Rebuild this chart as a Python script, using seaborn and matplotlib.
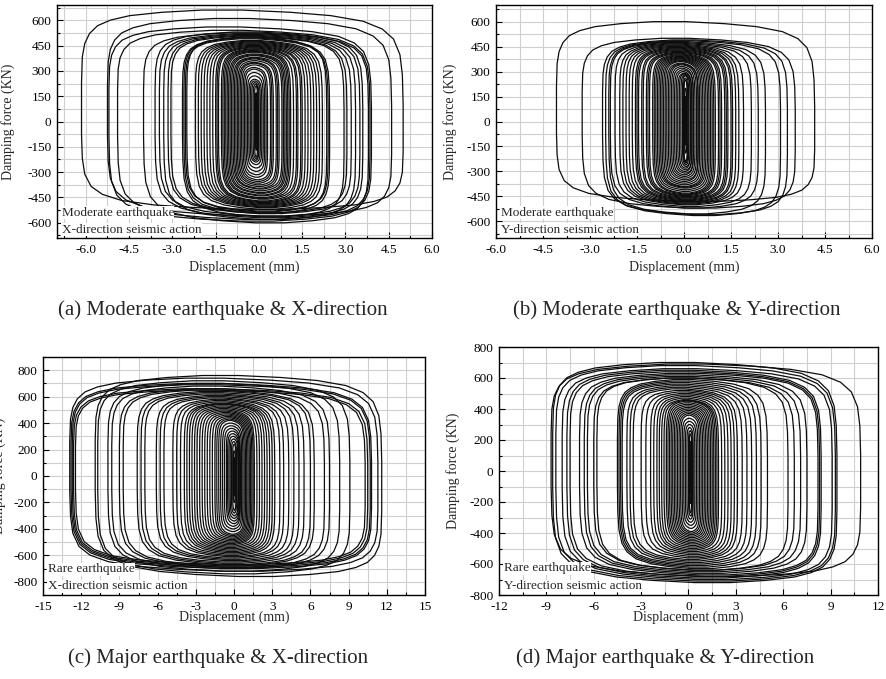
import numpy as np
import pandas as pd
import matplotlib
matplotlib.use("Agg")
import matplotlib.pyplot as plt
from matplotlib.ticker import MultipleLocator, FormatStrFormatter
import seaborn as sns

# ---------------- data ----------------
# Normalised half-loop outline (top branch from the top-left corner to the
# right side, then down); the other half of each loop is its point-mirror.
HALF_U = [-0.25, 0.0, 0.3, 0.55, 0.75, 0.87, 0.94, 0.98, 0.995, 1.0, 1.0,
          1.0, 0.995, 0.98, 0.95, 0.9, 0.82, 0.7, 0.5]
HALF_V = [1.0, 1.0, 0.98, 0.95, 0.9, 0.83, 0.74, 0.6, 0.42, 0.15, -0.15,
          -0.35, -0.58, -0.7, -0.79, -0.86, -0.91, -0.95, -0.98]

# (a) Moderate earthquake, X-direction: per-loop left/right displacement (mm), peak forces (KN)
A_LEFT = [-6.15, -5.25, -5.2, -4.9, -4.0, -3.6, -3.45, -3.3, -3.15, -3.05,
          -2.65, -2.6, -2.55, -2.5, -2.2, -2.1, -2.0, -1.9, -1.8, -1.7,
          -1.6, -1.5, -1.45, -1.4, -1.3, -1.25, -1.2, -1.15, -1.1, -1.05,
          -1.0, -0.95, -0.9, -0.85, -0.8, -0.75, -0.7, -0.65, -0.6, -0.55,
          -0.5, -0.45, -0.4, -0.35, -0.3, -0.25, -0.2, -0.15, -0.12, -0.1]
A_RIGHT = [5.0, 4.6, 3.9, 3.85, 3.8, 3.6, 3.5, 3.35, 3.2, 3.05,
           2.95, 2.45, 2.4, 2.35, 2.2, 2.1, 2.0, 1.9, 1.8, 1.7,
           1.6, 1.5, 1.45, 1.35, 1.3, 1.2, 1.1, 1.05, 1.0, 0.95,
           0.9, 0.85, 0.8, 0.7, 0.65, 0.6, 0.5, 0.45, 0.4, 0.3,
           0.25, 0.2, 0.15, 0.1, 0.05, 0.0, -0.02, -0.05, -0.07, -0.08]
A_TOP = [660, 610, 560, 540, 525, 530, 520, 515, 510, 505,
         500, 495, 490, 500, 480, 475, 470, 465, 460, 455,
         450, 445, 440, 435, 430, 425, 420, 415, 410, 400,
         395, 390, 380, 375, 370, 360, 350, 345, 335, 320,
         310, 290, 270, 250, 240, 230, 220, 210, 170, 130]
A_BOT = [-520, -560, -590, -580, -600, -570, -560, -580, -545, -540,
         -565, -545, -530, -535, -520, -510, -505, -500, -495, -490,
         -485, -480, -475, -470, -460, -455, -450, -440, -435, -425,
         -420, -410, -400, -395, -385, -375, -365, -355, -345, -330,
         -315, -295, -275, -255, -240, -230, -220, -210, -170, -130]

# (b) Moderate earthquake, Y-direction
B_LEFT = [-4.07, -3.25, -2.6, -2.5, -2.4, -2.35, -2.2, -2.05, -1.95, -1.85,
          -1.75, -1.65, -1.55, -1.5, -1.45, -1.35, -1.3, -1.2, -1.15, -1.1,
          -1.0, -0.95, -0.9, -0.85, -0.8, -0.75, -0.7, -0.65, -0.6, -0.55,
          -0.5, -0.45, -0.4, -0.35, -0.3, -0.25, -0.2, -0.15, -0.1, -0.05,
          -0.02, 0.0, 0.02, 0.03]
B_RIGHT = [4.17, 3.55, 3.3, 3.08, 2.6, 2.37, 2.15, 1.9, 1.75, 1.65,
           1.55, 1.5, 1.4, 1.35, 1.3, 1.2, 1.15, 1.1, 1.0, 0.95,
           0.9, 0.85, 0.8, 0.75, 0.7, 0.65, 0.6, 0.55, 0.5, 0.45,
           0.45, 0.4, 0.35, 0.3, 0.3, 0.25, 0.25, 0.2, 0.2, 0.15,
           0.12, 0.1, 0.08, 0.06]
B_TOP = [600, 500, 490, 485, 480, 475, 470, 465, 460, 455,
         450, 445, 440, 435, 430, 425, 420, 415, 410, 405,
         400, 395, 390, 385, 380, 375, 370, 365, 360, 350,
         345, 340, 330, 320, 310, 300, 290, 285, 280, 275,
         260, 250, 200, 150]
B_BOT = [-480, -520, -560, -565, -555, -520, -510, -500, -495, -490,
         -485, -480, -475, -470, -465, -460, -455, -450, -445, -440,
         -435, -430, -420, -410, -400, -395, -390, -380, -370, -360,
         -350, -340, -330, -320, -310, -300, -290, -280, -270, -260,
         -250, -240, -190, -140]

# (c) Major (rare) earthquake, X-direction
C_LEFT = [-12.9, -12.8, -12.7, -12.6, -12.45, -10.9, -10.7, -9.9, -9.6, -9.0,
          -8.7, -7.6, -7.3, -7.0, -6.1, -5.8, -5.5, -4.8, -4.5, -4.2,
          -3.9, -3.7, -3.5, -3.3, -3.1, -2.9, -2.7, -2.5, -2.3, -2.1,
          -1.9, -1.7, -1.5, -1.35, -1.2, -1.05, -0.9, -0.75, -0.6, -0.5,
          -0.4, -0.3, -0.2, -0.1, -0.05, 0.0]
C_RIGHT = [11.3, 10.8, 10.7, 10.5, 10.3, 11.6, 9.1, 8.3, 7.5, 7.1,
           6.3, 6.0, 5.5, 5.1, 4.7, 4.3, 3.9, 3.6, 3.2, 3.0,
           2.8, 2.6, 2.4, 2.2, 2.0, 1.8, 1.6, 1.5, 1.4, 1.3,
           1.2, 1.1, 1.0, 0.9, 0.8, 0.7, 0.6, 0.5, 0.45, 0.4,
           0.35, 0.3, 0.2, 0.15, 0.1, 0.06]
C_TOP = [740, 700, 690, 660, 650, 760, 720, 700, 680, 660,
         650, 640, 630, 620, 610, 600, 590, 580, 570, 560,
         550, 545, 540, 530, 520, 510, 500, 490, 480, 470,
         460, 450, 440, 430, 420, 400, 380, 360, 340, 320,
         300, 280, 260, 240, 190, 140]
C_BOT = [-720, -700, -690, -680, -670, -760, -740, -720, -700, -690,
         -680, -670, -660, -650, -640, -630, -620, -610, -600, -590,
         -580, -570, -560, -550, -540, -530, -520, -510, -500, -490,
         -480, -470, -460, -450, -440, -420, -400, -380, -360, -340,
         -320, -300, -280, -260, -200, -150]

# (d) Major (rare) earthquake, Y-direction
D_LEFT = [-8.7, -8.6, -8.4, -8.0, -7.7, -7.5, -6.9, -6.6, -6.4, -6.0,
          -5.8, -4.5, -4.4, -4.3, -4.2, -3.9, -3.7, -3.5, -3.0, -2.7,
          -2.4, -2.2, -2.0, -1.85, -1.7, -1.55, -1.4, -1.3, -1.2, -1.1,
          -1.0, -0.9, -0.8, -0.7, -0.6, -0.5, -0.4, -0.3, -0.2, -0.1,
          0.0, 0.05, 0.08, 0.1]
D_RIGHT = [10.9, 9.4, 9.3, 9.1, 8.4, 8.3, 8.2, 7.5, 7.1, 6.7,
           6.3, 5.0, 4.6, 4.3, 4.0, 3.7, 3.4, 3.1, 2.9, 2.7,
           2.5, 2.3, 2.1, 1.9, 1.8, 1.7, 1.6, 1.5, 1.4, 1.3,
           1.2, 1.1, 1.0, 0.9, 0.8, 0.7, 0.6, 0.5, 0.4, 0.3,
           0.25, 0.2, 0.17, 0.14]
D_TOP = [690, 700, 680, 660, 650, 640, 630, 620, 610, 600,
         600, 590, 580, 570, 560, 550, 540, 530, 520, 510,
         500, 490, 480, 470, 460, 455, 450, 440, 430, 420,
         410, 400, 390, 380, 370, 360, 340, 320, 300, 280,
         260, 240, 190, 140]
D_BOT = [-680, -720, -710, -700, -690, -680, -670, -660, -650, -640,
         -640, -630, -620, -610, -600, -590, -580, -570, -560, -550,
         -540, -530, -520, -510, -500, -490, -480, -470, -460, -450,
         -440, -430, -420, -410, -400, -390, -370, -350, -330, -310,
         -290, -270, -210, -150]

CAPTIONS = ["(a) Moderate earthquake & X-direction",
            "(b) Moderate earthquake & Y-direction",
            "(c) Major earthquake & X-direction",
            "(d) Major earthquake & Y-direction"]
NOTE1 = ["Moderate earthquake", "Moderate earthquake", "Rare earthquake", "Rare earthquake"]
NOTE2 = ["X-direction seismic action", "Y-direction seismic action",
         "X-direction seismic action", "Y-direction seismic action"]
XLABEL = "Displacement (mm)"
YLABEL = "Damping force (KN)"

# ---------------- style ----------------
sns.set_theme(style="white")
plt.rcParams["font.family"] = ["Liberation Serif", "DejaVu Serif"]
plt.rcParams["axes.unicode_minus"] = False
plt.rcParams["lines.solid_capstyle"] = "butt"
plt.rcParams["lines.solid_joinstyle"] = "round"


def loop_frame(xl, xr, ft, fb):
    hu = np.array(HALF_U)
    hv = np.array(HALF_V)
    u = np.concatenate([hu, -hu, hu[:1]])
    v = np.concatenate([hv, -hv, hv[:1]])
    xc = (xl + xr) / 2.0
    a = (xr - xl) / 2.0
    return pd.DataFrame({"disp": xc + a * u,
                         "force": np.where(v >= 0, v * ft, -v * fb)})


fig = plt.figure(figsize=(8.86, 6.79), dpi=100)
W, H = 886, 679

# axes boxes in pixels (left, top, right, bottom)
boxes = [(57, 5, 432, 238), (496, 5, 872, 238), (43, 357, 425, 595), (499, 347, 878, 595)]
datasets = [(A_LEFT, A_RIGHT, A_TOP, A_BOT), (B_LEFT, B_RIGHT, B_TOP, B_BOT),
            (C_LEFT, C_RIGHT, C_TOP, C_BOT), (D_LEFT, D_RIGHT, D_TOP, D_BOT)]
xlims = [(-7.0, 6.0), (-6.0, 6.0), (-15, 15), (-12, 12)]
ylims = [(-690, 690), (-700, 700), (-900, 900), (-800, 800)]
xmaj = [1.5, 1.5, 3, 3]
ymaj = [150, 150, 200, 200]
xfmt = ["%.1f", "%.1f", "%d", "%d"]
ylab_x = [15, 457, 6, 460]
xlab_y = [261, 261, 611, 611]
cap_pos = [(223, 310), (677, 310), (218, 658), (665, 658)]

for k in range(4):
    l, t, r, b = boxes[k]
    ax = fig.add_axes([l / W, 1 - b / H, (r - l) / W, (b - t) / H])
    for xl, xr, ft, fb in zip(*datasets[k]):
        sns.lineplot(data=loop_frame(xl, xr, ft, fb), x="disp", y="force",
                     estimator=None, sort=False, color="#0d0d0d", lw=0.9,
                     ax=ax, zorder=3)
    ax.set_xlim(*xlims[k])
    ax.set_ylim(*ylims[k])
    ax.xaxis.set_major_locator(MultipleLocator(xmaj[k]))
    ax.xaxis.set_minor_locator(MultipleLocator(xmaj[k] / 2))
    ax.yaxis.set_major_locator(MultipleLocator(ymaj[k]))
    ax.yaxis.set_minor_locator(MultipleLocator(ymaj[k] / 2))
    ax.xaxis.set_major_formatter(FormatStrFormatter(xfmt[k]))
    ax.yaxis.set_major_formatter(FormatStrFormatter("%d"))
    ax.grid(True, which="both", color="#cfcfcf", lw=0.8, zorder=0)
    ax.set_axisbelow(True)
    ax.tick_params(which="both", direction="in", bottom=True, left=True,
                   top=False, right=False, colors="black", labelsize=9.5,
                   width=0.8, pad=4)
    ax.tick_params(which="major", length=4)
    ax.tick_params(which="minor", length=2)
    for s in ax.spines.values():
        s.set_color("black")
        s.set_linewidth(1.0)
    ax.set_xlabel(XLABEL, fontsize=10)
    ax.set_ylabel(YLABEL, fontsize=10)
    ax.yaxis.set_label_coords((ylab_x[k] - l) / (r - l), 0.5)
    ax.xaxis.set_label_coords(0.5, (b - xlab_y[k]) / (b - t))
    ax.text(0.012, 0.108, NOTE1[k], transform=ax.transAxes, fontsize=9.5,
            va="center", ha="left", zorder=5,
            bbox=dict(facecolor="white", edgecolor="none", pad=0.3))
    ax.text(0.012, 0.036, NOTE2[k], transform=ax.transAxes, fontsize=9.5,
            va="center", ha="left", zorder=5,
            bbox=dict(facecolor="white", edgecolor="none", pad=0.3))
    cx, cy = cap_pos[k]
    fig.text(cx / W, 1 - cy / H, CAPTIONS[k], fontsize=15, ha="center", va="center")

fig.savefig("out.png", dpi=100, facecolor="white")
